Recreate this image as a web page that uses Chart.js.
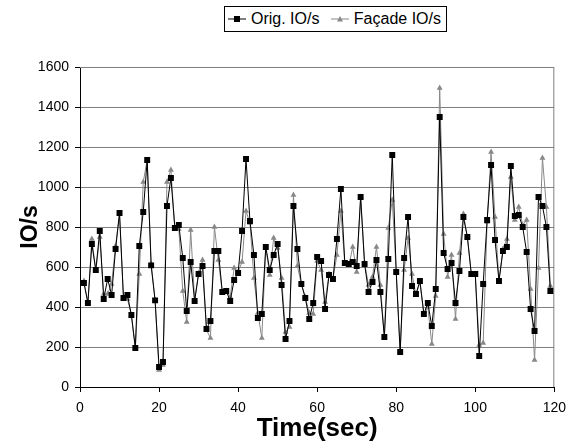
<!DOCTYPE html>
<html>
<head>
<meta charset="utf-8">
<script src="https://cdn.jsdelivr.net/npm/chart.js@4.4.1/dist/chart.umd.min.js"></script>
<style>
  html,body{margin:0;padding:0;background:#fff;}
  #wrap{position:relative;width:574px;height:444px;}
  #legend{position:absolute;left:224px;top:6px;width:223px;height:26px;border:1px solid #000;background:#fff;
    display:flex;align-items:center;justify-content:space-between;font:16px "Liberation Sans",Arial,sans-serif;color:#000;padding:0 5px 0 3px;box-sizing:border-box;}
  #legend .it{display:flex;align-items:center;}
  #legend svg{margin-right:5px;}
</style>
</head>
<body>
<div id="wrap">
  <canvas id="c" width="574" height="444"></canvas>
  <div id="legend">
    <span class="it"><svg width="18" height="10"><line x1="0" y1="5" x2="18" y2="5" stroke="#000" stroke-width="1"/><rect x="6" y="2" width="6" height="6" fill="#000"/></svg>Orig. IO/s</span>
    <span class="it"><svg width="18" height="10"><line x1="0" y1="5" x2="18" y2="5" stroke="#888" stroke-width="1"/><polygon points="9,2 12,7.5 6,7.5" fill="#888"/></svg>Façade IO/s</span>
  </div>
</div>
<script>
// sample times (sec)
const times = [1,2,3,4,5,6,7,8,9,10,11,12,13,14,15,16,17,18,19,20,
  21,22,23,24,25,26,27,28,29,30,31,32,33,34,35,36,37,38,39,40,
  41,42,43,44,45,46,47,48,49,50,51,52,53,54,55,56,57,58,59,60,
  61,62,63,64,65,66,67,68,69,70,71,72,73,74,75,76,77,78,79,80,
  81,82,83,84,85,86,87,88,89,90,91,92,93,94,95,96,97,98,99,100,
  101,102,103,104,105,106,107,108,109,110,111,112,113,114,115,116,117,118,119];

const origIO = [520,420,715,585,780,440,540,460,690,870,445,460,360,195,705,875,1135,608,433,100,
  125,905,1045,795,810,645,380,625,430,565,605,290,330,680,680,475,480,430,535,570,
  780,1140,830,660,345,365,700,585,660,715,510,240,330,905,690,515,445,340,420,650,
  630,390,560,540,740,990,620,615,625,605,950,615,475,525,635,475,250,640,1160,575,
  175,645,850,505,465,530,365,420,305,490,1350,670,590,620,420,580,850,750,565,565,
  155,515,835,1110,735,530,680,700,1105,855,860,800,675,390,280,950,905,800,480];

const facadeIO = [530,420,740,580,750,465,465,515,705,865,445,440,360,195,565,1025,1135,615,433,85,
  110,1025,1085,790,790,480,325,785,433,570,635,285,245,800,635,475,480,450,595,575,
  625,880,820,545,370,245,700,560,745,695,545,275,300,960,605,515,450,370,365,630,
  585,425,565,540,660,880,615,605,700,575,950,620,510,550,700,510,250,795,935,575,
  180,585,745,565,460,525,360,400,215,455,1495,765,550,660,340,670,865,750,565,565,
  210,220,825,1175,850,530,690,740,1050,835,900,810,835,490,135,595,1145,900,505];

const xTicks = [0,20,40,60,80,100,120];
const yMax = 1600, yStep = 200;

const FONT = '"Liberation Sans", Arial, sans-serif';
const pts = arr => arr.map((v,i)=>({x:times[i],y:v}));

// grey frame on top/right of plot area
const frame = {
  id:'frame',
  beforeDatasetsDraw(chart){
    const a=chart.chartArea, ctx=chart.ctx;
    ctx.save();
    ctx.strokeStyle='#808080'; ctx.lineWidth=1;
    ctx.beginPath();
    ctx.moveTo(a.left,a.top+0.5); ctx.lineTo(a.right-0.5,a.top+0.5); ctx.lineTo(a.right-0.5,a.bottom);
    ctx.stroke();
    ctx.restore();
  }
};

new Chart(document.getElementById('c'), {
  type:'line',
  data:{datasets:[
    {label:'Orig. IO/s', data:pts(origIO), borderColor:'#000', backgroundColor:'#000', borderWidth:1,
      pointStyle:'rect', pointRadius:4.2, pointBorderWidth:0, tension:0},
    {label:'Façade IO/s', data:pts(facadeIO), borderColor:'#888', backgroundColor:'#888', borderWidth:1,
      pointStyle:'triangle', pointRadius:3.4, pointBorderWidth:0, tension:0}
  ]},
  options:{
    responsive:false, animation:false, devicePixelRatio:1,
    layout:{padding:{left:13,right:16,top:67,bottom:0}},
    plugins:{legend:{display:false}, tooltip:{enabled:false}},
    scales:{
      x:{type:'linear', min:0, max:120,
        afterBuildTicks:s=>{s.ticks=xTicks.map(v=>({value:v}));},
        afterFit:s=>{s.height=57;},
        grid:{drawOnChartArea:false, drawTicks:true, tickLength:5, tickColor:'#000'},
        border:{color:'#000', width:1},
        ticks:{color:'#000', font:{family:FONT, size:14}, padding:8, maxRotation:0},
        title:{display:true, text:'Time(sec)', color:'#000', font:{family:FONT, size:26, weight:'bold'}, padding:{top:0,bottom:0}}
      },
      y:{min:0, max:yMax,
        ticks:{stepSize:yStep, color:'#000', font:{family:FONT, size:14}, padding:6, callback:v=>String(v)},
        afterFit:s=>{s.width=67;},
        grid:{color:'#808080', lineWidth:1, drawTicks:true, tickLength:5, tickColor:'#000'},
        border:{color:'#000', width:1},
        title:{display:true, text:'IO/s', color:'#000', font:{family:FONT, size:23, weight:'bold'}, padding:{top:4,bottom:4}}
      }
    }
  },
  plugins:[frame]
});
</script>
</body>
</html>
